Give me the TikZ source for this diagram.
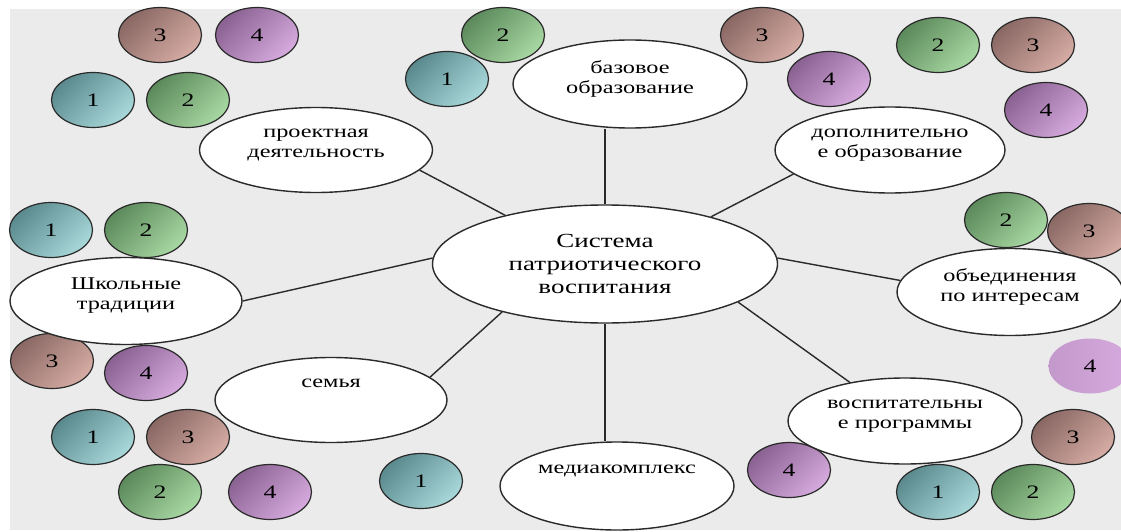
\documentclass[tikz,border=0pt]{standalone}
\usepackage{fontspec}
\setmainfont{Liberation Serif}[FakeStretch=1.35]
\usepackage{tikz}
\usetikzlibrary{shapes.geometric}

\definecolor{paper}{HTML}{EBEBEB}
\definecolor{ink}{HTML}{2A2A2A}
\definecolor{tealDark}{HTML}{5B8A8E}
\definecolor{tealLight}{HTML}{A8D8DA}
\definecolor{greenDark}{HTML}{5C8A5C}
\definecolor{greenLight}{HTML}{A8D8A2}
\definecolor{roseDark}{HTML}{8A6864}
\definecolor{roseLight}{HTML}{D6ACA4}
\definecolor{lilacDark}{HTML}{8A6292}
\definecolor{lilacLight}{HTML}{D6AADE}

\begin{document}
\begin{tikzpicture}[
  x=1pt, y=-1pt,
  topic/.style={ellipse, draw=ink, fill=white, line width=1.4pt, inner sep=0pt, align=center,
    text depth=14pt, font=\fontsize{18}{20}\selectfont},
  hub/.style={ellipse, draw=ink, fill=white, line width=1.4pt, inner sep=0pt, align=center,
    minimum width=345pt, minimum height=118pt, font=\fontsize{20}{23}\selectfont},
  badge/.style={ellipse, draw=ink, line width=1.2pt, inner sep=0pt,
    minimum width=83pt, minimum height=55pt, font=\fontsize{19}{22}\selectfont},
  teal badge/.style={badge, left color=tealDark, right color=tealLight, shading angle=45},
  green badge/.style={badge, left color=greenDark, right color=greenLight, shading angle=45},
  rose badge/.style={badge, left color=roseDark, right color=roseLight, shading angle=45},
  lilac badge/.style={badge, left color=lilacDark, right color=lilacLight, shading angle=45},
  link/.style={draw=ink, line width=1.4pt}
]
\useasboundingbox (0,0) rectangle (1121,532);
\fill[white] (0,0) rectangle (1121,532);
\fill[paper] (10,9) rectangle (1121,530);

% badges
\node[rose badge]  (Three1) at (160,35)  {3};
\node[lilac badge] (Four1)  at (257,35)  {4};
\node[teal badge]  (One1)   at (93,100)  {1};
\node[green badge] (Two1)   at (188,100) {2};
\node[green badge] (Two2)   at (503,35)  {2};
\node[teal badge]  (One2)   at (447,79)  {1};
\node[rose badge]  (Three2) at (762,35)  {3};
\node[lilac badge] (Four2)  at (829,79)  {4};
\node[green badge] (Two3)   at (938,45)  {2};
\node[rose badge]  (Three3) at (1033,45) {3};
\node[lilac badge] (Four3)  at (1046,110) {4};
\node[teal badge]  (One3)   at (51,230)  {1};
\node[green badge] (Two4)   at (146,230) {2};
\node[green badge] (Two5)   at (1006,220) {2};
\node[rose badge]  (Three4) at (1089,231) {3};
\node[lilac badge, draw=none, left color=lilacLight!75!lilacDark] (Four4) at (1090,366) {4};
\node[rose badge]  (Three5) at (52,361)  {3};
\node[lilac badge] (Four5)  at (146,373) {4};
\node[teal badge]  (One4)   at (93,437)  {1};
\node[rose badge]  (Three6) at (188,437) {3};
\node[green badge] (Two6)   at (160,492) {2};
\node[lilac badge] (Four6)  at (270,492) {4};
\node[teal badge]  (One5)   at (421,481) {1};
\node[lilac badge] (Four7)  at (789,470) {4};
\node[teal badge]  (One6)   at (938,492) {1};
\node[green badge] (Two7)   at (1033,492) {2};
\node[rose badge]  (Three7) at (1073,437) {3};

% topics
\node[hub] (System) at (605,264) {Система\\патриотического\\воспитания};

\node[topic, minimum width=234pt, minimum height=88pt] (Basic) at (630,84) {базовое\\образование};
\node[topic, minimum width=233pt, minimum height=85pt] (Projects) at (316,150) {проектная\\деятельность};
\node[topic, minimum width=230pt, minimum height=86pt] (Extra) at (890,150) {дополнительно\\е образование};
\node[topic, minimum width=232pt, minimum height=87pt] (Traditions) at (126,301) {Школьные\\традиции};
\node[topic, minimum width=226pt, minimum height=87pt] (Clubs) at (1010,292) {объединения\\по интересам};
\node[topic, minimum width=232pt, minimum height=85pt] (Family) at (331,400) {семья\\\mbox{}};
\node[topic, minimum width=234pt, minimum height=86pt] (Programs) at (905,421) {воспитательны\\е программы};
\node[topic, minimum width=234pt, minimum height=88pt] (Media) at (617,486) {медиакомплекс\\\mbox{}};

\draw[link] (System.north) -- (System.north |- Basic.south);
\draw[link] (System.south) -- (System.south |- Media.north);
\draw[link] (System.154) -- (Projects.349);
\draw[link] (System.24) -- (Extra.194);
\draw[link] (System.178) -- (Traditions.east);
\draw[link] (System.2) -- (Clubs.174);
\draw[link] (System.205) -- (Family.13);
\draw[link] (System.344) -- (Programs.145);
\end{tikzpicture}
\end{document}
